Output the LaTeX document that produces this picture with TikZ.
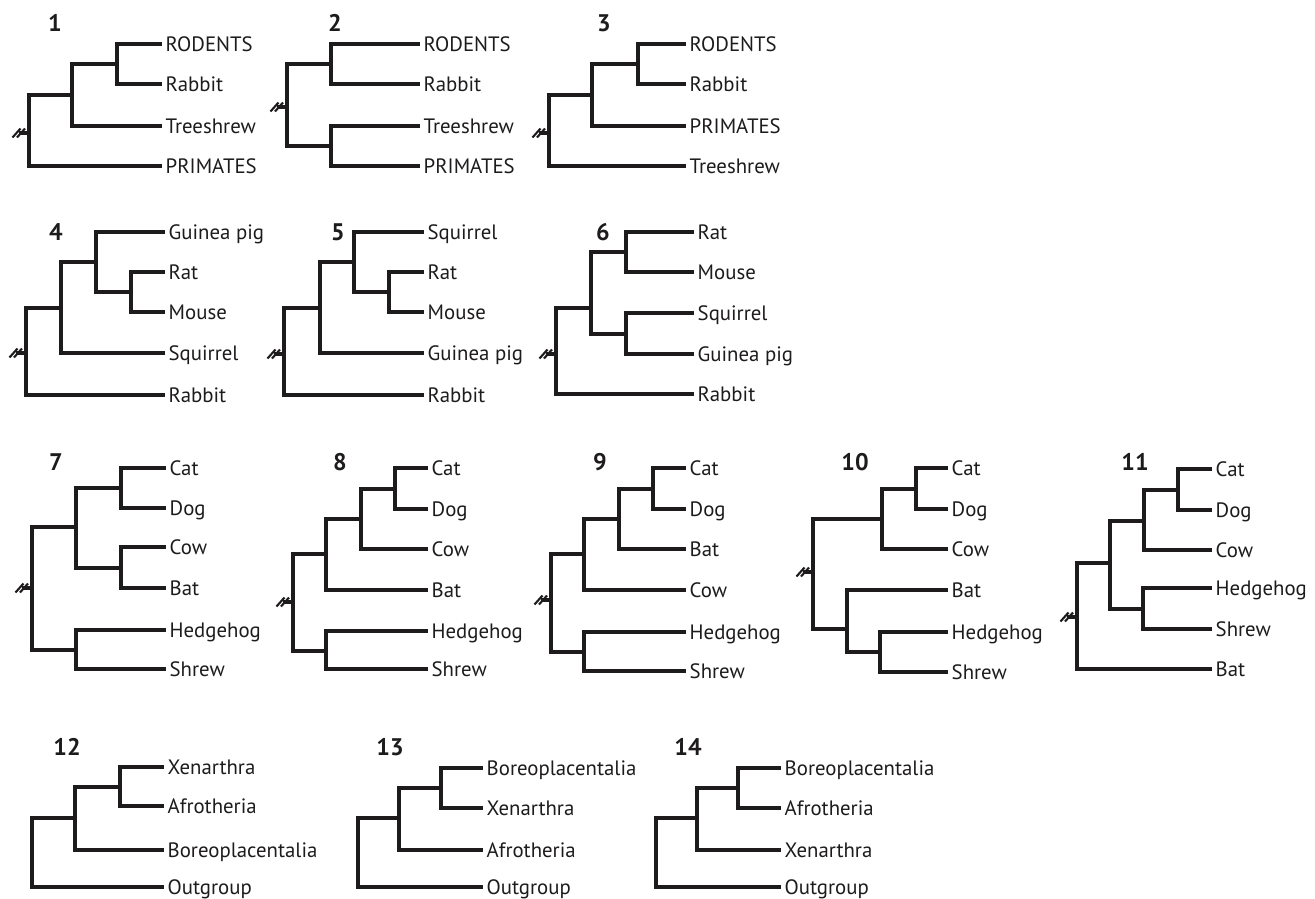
\documentclass[tikz,border=0pt]{standalone}
\usepackage{fontspec}
\setmainfont{PT Sans}
\definecolor{ink}{RGB}{30,27,28}
\tikzset{
 br/.style={line width=3.2pt, line join=miter, draw=ink},
 lab/.style={anchor=base west, inner sep=0pt, xshift=3.5pt, yshift=-7pt, font=\fontsize{20.8}{24}\selectfont, text=ink},
 ttl/.style={inner sep=0pt, font=\fontsize{24}{26}\selectfont\bfseries, text=ink},
 hs/.style={line width=2.1pt, draw=ink}
}
\newcommand\lf[3]{\coordinate (#1) at #2; \node[lab] (#1t) at (#1) {#3};}
\newcommand\edg[2]{\draw[br] (#1) |- (#2);}
\newcommand\hashat[1]{\draw[br] (#1) -- ++(-10,0);
 \draw[hs] ([shift={(-16.5,4.5)}]#1) -- ++(8,-9);
 \draw[hs] ([shift={(-12,4.5)}]#1) -- ++(8,-9);}
\begin{document}
\begin{tikzpicture}[x=1pt,y=-1pt]
\useasboundingbox (0,0) rectangle (1315,898);
% titles
\node[ttl] (n1) at (55,23) {1};
\node[ttl] (n2) at (335,23) {2};
\node[ttl] (n3) at (604,23) {3};
\node[ttl] (n4) at (56,232) {4};
\node[ttl] (n5) at (338,232) {5};
\node[ttl] (n6) at (603,232) {6};
\node[ttl] (n7) at (56,462) {7};
\node[ttl] (n8) at (340,462) {8};
\node[ttl] (n9) at (600,462) {9};
\node[ttl] (n10) at (855,462) {10};
\node[ttl] (n11) at (1135,462) {11};
\node[ttl] (n12) at (67,747) {12};
\node[ttl] (n13) at (390,747) {13};
\node[ttl] (n14) at (688,747) {14};
% ---------- tree 1
\coordinate (r1) at (29,133); \coordinate (a1) at (72,95); \coordinate (b1) at (117,64);
\lf{l1a}{(162,44)}{RODENTS} \lf{l1b}{(162,84)}{Rabbit} \lf{l1c}{(162,126)}{Treeshrew} \lf{l1d}{(162,166)}{PRIMATES}
\edg{r1}{a1} \edg{r1}{l1d} \edg{a1}{b1} \edg{a1}{l1c} \edg{b1}{l1a} \edg{b1}{l1b}
\hashat{r1}
% ---------- tree 2
\coordinate (r2) at (287,107); \coordinate (a2) at (331,64); \coordinate (b2) at (331,146);
\lf{l2a}{(420,44)}{RODENTS} \lf{l2b}{(420,84)}{Rabbit} \lf{l2c}{(420,126)}{Treeshrew} \lf{l2d}{(420,166)}{PRIMATES}
\edg{r2}{a2} \edg{r2}{b2} \edg{a2}{l2a} \edg{a2}{l2b} \edg{b2}{l2c} \edg{b2}{l2d}
\hashat{r2}
% ---------- tree 3
\coordinate (r3) at (549,133); \coordinate (a3) at (592,95); \coordinate (b3) at (638,64);
\lf{l3a}{(686,44)}{RODENTS} \lf{l3b}{(686,84)}{Rabbit} \lf{l3c}{(686,126)}{PRIMATES} \lf{l3d}{(686,166)}{Treeshrew}
\edg{r3}{a3} \edg{r3}{l3d} \edg{a3}{b3} \edg{a3}{l3c} \edg{b3}{l3a} \edg{b3}{l3b}
\hashat{r3}
% ---------- tree 4
\coordinate (r4) at (26,353); \coordinate (a4) at (61,308); \coordinate (b4) at (96,262); \coordinate (c4) at (131,292);
\lf{l4a}{(165,232)}{Guinea pig} \lf{l4b}{(165,272)}{Rat} \lf{l4c}{(165,312)}{Mouse} \lf{l4d}{(165,353)}{Squirrel} \lf{l4e}{(165,395)}{Rabbit}
\edg{r4}{a4} \edg{r4}{l4e} \edg{a4}{b4} \edg{a4}{l4d} \edg{b4}{l4a} \edg{b4}{c4} \edg{c4}{l4b} \edg{c4}{l4c}
\hashat{r4}
% ---------- tree 5
\coordinate (r5) at (284,354); \coordinate (a5) at (320,308); \coordinate (b5) at (354,262); \coordinate (c5) at (389,292);
\lf{l5a}{(424,232)}{Squirrel} \lf{l5b}{(424,272)}{Rat} \lf{l5c}{(424,312)}{Mouse} \lf{l5d}{(424,353)}{Guinea pig} \lf{l5e}{(424,395)}{Rabbit}
\edg{r5}{a5} \edg{r5}{l5e} \edg{a5}{b5} \edg{a5}{l5d} \edg{b5}{l5a} \edg{b5}{c5} \edg{c5}{l5b} \edg{c5}{l5c}
\hashat{r5}
% ---------- tree 6
\coordinate (r6) at (556,354); \coordinate (a6) at (591,308); \coordinate (b6) at (626,252); \coordinate (c6) at (626,334);
\lf{l6a}{(694,232)}{Rat} \lf{l6b}{(694,272)}{Mouse} \lf{l6c}{(694,313)}{Squirrel} \lf{l6d}{(694,354)}{Guinea pig} \lf{l6e}{(694,394)}{Rabbit}
\edg{r6}{a6} \edg{r6}{l6e} \edg{a6}{b6} \edg{a6}{c6} \edg{b6}{l6a} \edg{b6}{l6b} \edg{c6}{l6c} \edg{c6}{l6d}
\hashat{r6}
% ---------- tree 7
\coordinate (r7) at (32,588); \coordinate (a7) at (76,527); \coordinate (b7) at (121,488); \coordinate (c7) at (121,568); \coordinate (d7) at (76,650);
\lf{l7a}{(166,468)}{Cat} \lf{l7b}{(166,508)}{Dog} \lf{l7c}{(166,547)}{Cow} \lf{l7d}{(166,588)}{Bat} \lf{l7e}{(166,630)}{Hedgehog} \lf{l7f}{(166,669)}{Shrew}
\edg{r7}{a7} \edg{r7}{d7} \edg{a7}{b7} \edg{a7}{c7} \edg{b7}{l7a} \edg{b7}{l7b} \edg{c7}{l7c} \edg{c7}{l7d} \edg{d7}{l7e} \edg{d7}{l7f}
\hashat{r7}
% ---------- tree 8
\coordinate (r8) at (293,602); \coordinate (a8) at (326,554); \coordinate (b8) at (361,519); \coordinate (c8) at (395,489); \coordinate (d8) at (326,651);
\lf{l8a}{(428,468)}{Cat} \lf{l8b}{(428,509)}{Dog} \lf{l8c}{(428,549)}{Cow} \lf{l8d}{(428,590)}{Bat} \lf{l8e}{(428,631)}{Hedgehog} \lf{l8f}{(428,669)}{Shrew}
\edg{r8}{a8} \edg{r8}{d8} \edg{a8}{b8} \edg{a8}{l8d} \edg{b8}{c8} \edg{b8}{l8c} \edg{c8}{l8a} \edg{c8}{l8b} \edg{d8}{l8e} \edg{d8}{l8f}
\hashat{r8}
% ---------- tree 9
\coordinate (r9) at (551,600); \coordinate (a9) at (584,554); \coordinate (b9) at (619,519); \coordinate (c9) at (653,489); \coordinate (d9) at (584,652);
\lf{l9a}{(686,468)}{Cat} \lf{l9b}{(686,509)}{Dog} \lf{l9c}{(686,549)}{Bat} \lf{l9d}{(686,590)}{Cow} \lf{l9e}{(686,632)}{Hedgehog} \lf{l9f}{(686,671)}{Shrew}
\edg{r9}{a9} \edg{r9}{d9} \edg{a9}{b9} \edg{a9}{l9d} \edg{b9}{c9} \edg{b9}{l9c} \edg{c9}{l9a} \edg{c9}{l9b} \edg{d9}{l9e} \edg{d9}{l9f}
\hashat{r9}
% ---------- tree 10
\coordinate (r10) at (813,572); \coordinate (a10) at (882,519); \coordinate (b10) at (916,489); \coordinate (c10) at (847,629); \coordinate (d10) at (880,652);
\lf{l10a}{(948,468)}{Cat} \lf{l10b}{(948,509)}{Dog} \lf{l10c}{(948,549)}{Cow} \lf{l10d}{(948,590)}{Bat} \lf{l10e}{(948,632)}{Hedgehog} \lf{l10f}{(948,672)}{Shrew}
\edg{r10}{a10} \edg{r10}{c10} \edg{a10}{b10} \edg{a10}{l10c} \edg{b10}{l10a} \edg{b10}{l10b} \edg{c10}{l10d} \edg{c10}{d10} \edg{d10}{l10e} \edg{d10}{l10f}
\hashat{r10}
% ---------- tree 11
\coordinate (r11) at (1077,617); \coordinate (a11) at (1110,563); \coordinate (b11) at (1144,521); \coordinate (c11) at (1178,490); \coordinate (d11) at (1143,609);
\lf{l11a}{(1212,469)}{Cat} \lf{l11b}{(1212,510)}{Dog} \lf{l11c}{(1212,550)}{Cow} \lf{l11d}{(1212,588)}{Hedgehog} \lf{l11e}{(1212,629)}{Shrew} \lf{l11f}{(1212,669)}{Bat}
\edg{r11}{a11} \edg{r11}{l11f} \edg{a11}{b11} \edg{a11}{d11} \edg{b11}{c11} \edg{b11}{l11c} \edg{c11}{l11a} \edg{c11}{l11b} \edg{d11}{l11d} \edg{d11}{l11e}
\hashat{r11}
% ---------- tree 12
\coordinate (r12) at (32,818); \coordinate (a12) at (75,818); \coordinate (b12) at (120,787);
\lf{l12a}{(164,767)}{Xenarthra} \lf{l12b}{(164,806)}{Afrotheria} \lf{l12c}{(164,850)}{Boreoplacentalia} \lf{l12d}{(164,887)}{Outgroup}
\draw[br] (a12) -- (r12) |- (l12d);
\edg{a12}{b12} \edg{a12}{l12c} \edg{b12}{l12a} \edg{b12}{l12b}
% ---------- tree 13
\coordinate (r13) at (358,818); \coordinate (a13) at (399,818); \coordinate (b13) at (441,788);
\lf{l13a}{(483,768)}{Boreoplacentalia} \lf{l13b}{(483,808)}{Xenarthra} \lf{l13c}{(483,850)}{Afrotheria} \lf{l13d}{(483,887)}{Outgroup}
\draw[br] (a13) -- (r13) |- (l13d);
\edg{a13}{b13} \edg{a13}{l13c} \edg{b13}{l13a} \edg{b13}{l13b}
% ---------- tree 14
\coordinate (r14) at (656,818); \coordinate (a14) at (697,818); \coordinate (b14) at (738,788);
\lf{l14a}{(781,768)}{Boreoplacentalia} \lf{l14b}{(781,808)}{Afrotheria} \lf{l14c}{(781,850)}{Xenarthra} \lf{l14d}{(781,887)}{Outgroup}
\draw[br] (a14) -- (r14) |- (l14d);
\edg{a14}{b14} \edg{a14}{l14c} \edg{b14}{l14a} \edg{b14}{l14b}
\end{tikzpicture}
\end{document}
